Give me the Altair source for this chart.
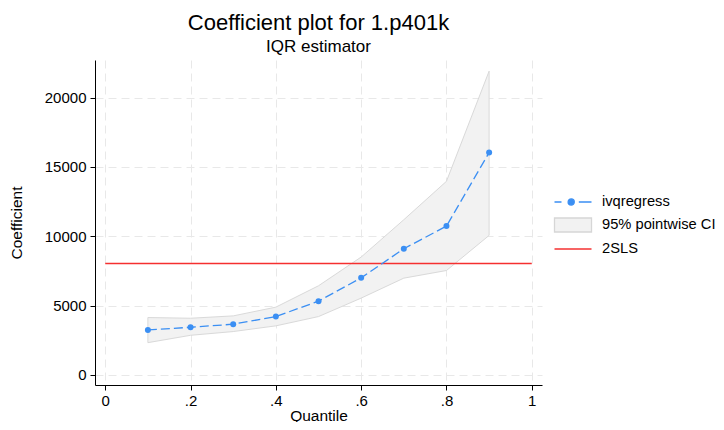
import altair as alt
import pandas as pd

# Data
quantiles = [0.1, 0.2, 0.3, 0.4, 0.5, 0.6, 0.7, 0.8, 0.9]
coef = [3250, 3440, 3660, 4210, 5320, 7000, 9100, 10730, 16030]
ci_low = [2330, 2860, 3130, 3540, 4210, 5540, 6980, 7530, 10060]
ci_high = [4140, 4090, 4260, 4890, 6430, 8500, 11190, 13960, 21900]
tsls_value = 8040
tsls_span = [0, 1]

series_names = ["ivqregress", "95% pointwise CI", "2SLS"]
x_ticks = [0, 0.2, 0.4, 0.6, 0.8, 1]
y_ticks = [0, 5000, 10000, 15000, 20000]

BLUE = "#3b8ff3"
RED = "#f53030"
FONT = "Liberation Sans"

df = pd.DataFrame({"q": quantiles, "coef": coef, "lo": ci_low, "hi": ci_high})
df_rule = pd.DataFrame({"x0": [tsls_span[0]], "x1": [tsls_span[1]], "y": [tsls_value]})
df_leg = pd.DataFrame({"series": series_names, "q": [0.5] * 3, "coef": [tsls_value] * 3})

xscale = alt.Scale(domain=[-0.024, 1.024], nice=False, zero=False)
yscale = alt.Scale(domain=[-722, 22703], nice=False, zero=False)

xaxis = alt.Axis(values=x_ticks, title="Quantile",
                 labelExpr="replace(format(datum.value, '.1~f'), '0.', '.')",
                 labelPadding=3, titleBaseline="alphabetic", titleY=35)
yaxis = alt.Axis(values=y_ticks, title="Coefficient", format="d",
                 labelPadding=4, titlePadding=20)

base = alt.Chart(df)

area = base.mark_area(fill="#f2f2f2", stroke="#d9d9d9", strokeWidth=1).encode(
    x=alt.X("q:Q", scale=xscale, axis=xaxis),
    y=alt.Y("lo:Q", scale=yscale, axis=yaxis),
    y2="hi:Q",
)

rule = alt.Chart(df_rule).mark_rule(color=RED, strokeWidth=1.5).encode(
    x=alt.X("x0:Q", scale=xscale),
    x2="x1:Q",
    y=alt.Y("y:Q", scale=yscale),
)

line = base.mark_line(color=BLUE, strokeWidth=1.3, strokeDash=[9, 4]).encode(
    x=alt.X("q:Q", scale=xscale),
    y=alt.Y("coef:Q", scale=yscale),
)

dots = base.mark_point(filled=True, color=BLUE, size=36, opacity=1).encode(
    x=alt.X("q:Q", scale=xscale),
    y=alt.Y("coef:Q", scale=yscale),
)

# legend glyphs (unit = 7 px, symbol 37 px wide)
sym_ivq = ("M-2.643,0H-1.643M0.83,0H2.643"
           "M-0.697,0A0.44,0.44,0,1,1,0.183,0A0.44,0.44,0,1,1,-0.697,0Z")
sym_ci = "M-2.643,-1H2.643V1H-2.643Z"
sym_tsls = "M-2.643,0H2.643"

legend = alt.Legend(title=None, orient="none", legendX=458, legendY=134,
                    padding=0, symbolSize=196, symbolStrokeWidth=1.3,
                    symbolOffset=12, symbolOpacity=1, labelFont=FONT,
                    labelFontSize=14.7, labelColor="black", labelOffset=21,
                    rowPadding=6)

legend_layer = alt.Chart(df_leg).mark_point(filled=True).encode(
    x=alt.X("q:Q", scale=xscale),
    y=alt.Y("coef:Q", scale=yscale),
    fill=alt.Fill("series:N", scale=alt.Scale(domain=series_names, range=[BLUE, "#f2f2f2", RED]), legend=legend),
    stroke=alt.Stroke("series:N", scale=alt.Scale(domain=series_names, range=[BLUE, "#d6d6d6", RED]), legend=legend),
    shape=alt.Shape("series:N", scale=alt.Scale(domain=series_names, range=[sym_ivq, sym_ci, sym_tsls]), legend=legend),
).transform_filter("datum.coef < 0")

chart = alt.layer(area, rule, line, dots, legend_layer).properties(
    width=447,
    height=325,
    autosize=alt.AutoSizeParams(type="none"),
    padding={"left": 87, "top": 52, "right": 174, "bottom": 37},
    title=alt.TitleParams(
        "Coefficient plot for 1.p401k",
        subtitle="IQR estimator",
        font=FONT, fontSize=22, fontWeight="normal", color="black",
        subtitleFont=FONT, subtitleFontSize=17, subtitleColor="black",
        anchor="middle", offset=4, subtitlePadding=4,
    ),
).configure_view(stroke=None).configure_axis(
    labelFont=FONT, titleFont=FONT, labelFontSize=15, titleFontSize=15.5,
    labelColor="black", titleColor="black", titleFontWeight="normal",
    domainColor="black", tickColor="black", tickSize=5, domainWidth=1, tickWidth=1,
    gridColor="#e8e8e8", gridDash=[8, 5], gridWidth=1,
)

chart.save("out.html", embed_options={"renderer": "svg", "actions": False})
